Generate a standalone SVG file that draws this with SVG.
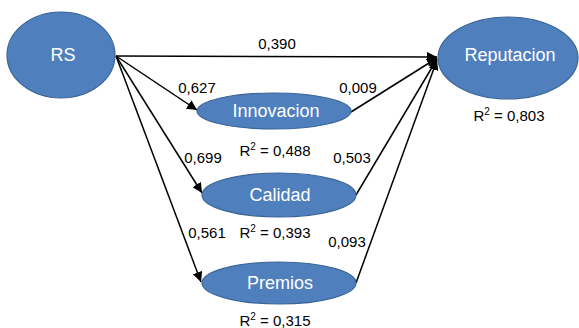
<svg xmlns="http://www.w3.org/2000/svg" width="579" height="328" viewBox="0 0 579 328">
<style>
.node ellipse{fill:#4f80bd;stroke:#3b6596;stroke-width:1.2}
.node text{fill:#fff;font-family:"Liberation Sans",Arial,sans-serif;font-size:18px;text-anchor:middle}
.lbl{fill:#000;font-family:"Liberation Sans",Arial,sans-serif;font-size:15px;text-anchor:middle}
.sup{font-size:10px}
.edges line{stroke:#000;stroke-width:1.5;fill:none}
</style>
<defs>
<marker id="ah2" viewBox="0 0 10 10" refX="10" refY="5" markerWidth="10" markerHeight="10" markerUnits="userSpaceOnUse" orient="auto">
<path d="M0,0 L10,5 L0,10 z" fill="#000"/>
</marker>
</defs>
<g class="edges">
<line x1="116" y1="56" x2="437" y2="57" marker-end="url(#ah2)"/>
<line x1="116" y1="56" x2="197" y2="110" marker-end="url(#ah2)"/>
<line x1="116" y1="56" x2="202" y2="193" marker-end="url(#ah2)"/>
<line x1="116" y1="56" x2="201" y2="282" marker-end="url(#ah2)"/>
<line x1="351" y1="112" x2="437" y2="58" marker-end="url(#ah2)"/>
<line x1="356" y1="195" x2="437" y2="59" marker-end="url(#ah2)"/>
<line x1="356" y1="283" x2="437" y2="60" marker-end="url(#ah2)"/>
</g>
<g id="RS" class="node">
<ellipse cx="61" cy="55" rx="54" ry="43"/>
<text x="63" y="61">RS</text>
</g>
<g id="Reputacion" class="node">
<ellipse cx="508" cy="58" rx="70" ry="41"/>
<text x="510" y="61">Reputacion</text>
</g>
<g id="Innovacion" class="node">
<ellipse cx="274" cy="111" rx="77" ry="18"/>
<text x="276" y="117">Innovacion</text>
</g>
<g id="Calidad" class="node">
<ellipse cx="279" cy="195" rx="77" ry="22"/>
<text x="280" y="201">Calidad</text>
</g>
<g id="Premios" class="node">
<ellipse cx="279" cy="283" rx="77" ry="21"/>
<text x="280" y="289">Premios</text>
</g>
<g id="labels">
<text class="lbl" x="277" y="49">0,390</text>
<text class="lbl" x="197" y="93">0,627</text>
<text class="lbl" x="358" y="93">0,009</text>
<text class="lbl" x="203" y="163">0,699</text>
<text class="lbl" x="352" y="163">0,503</text>
<text class="lbl" x="207" y="238">0,561</text>
<text class="lbl" x="347" y="247">0,093</text>
<text class="lbl" x="275" y="156">R<tspan class="sup" dy="-6">2</tspan><tspan dy="6"> = 0,488</tspan></text>
<text class="lbl" x="275" y="238">R<tspan class="sup" dy="-6">2</tspan><tspan dy="6"> = 0,393</tspan></text>
<text class="lbl" x="275" y="326">R<tspan class="sup" dy="-6">2</tspan><tspan dy="6"> = 0,315</tspan></text>
<text class="lbl" x="509" y="121">R<tspan class="sup" dy="-6">2</tspan><tspan dy="6"> = 0,803</tspan></text>
</g>
</svg>
